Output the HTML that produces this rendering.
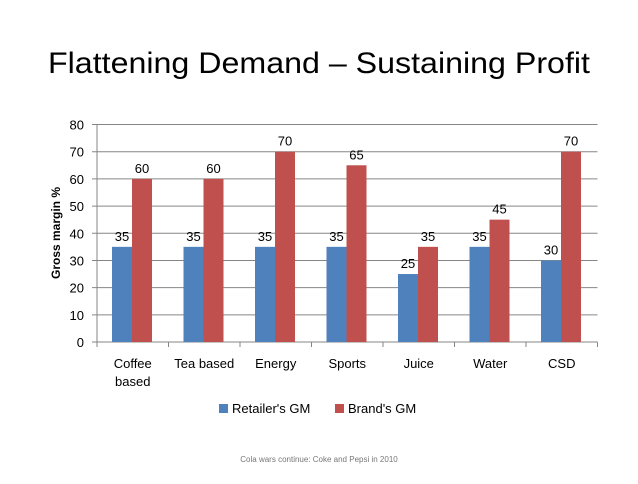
<!DOCTYPE html>
<html><head><meta charset="utf-8"><style>
body{margin:0;background:#fff;font-family:"Liberation Sans",sans-serif;}
</style></head><body>
<svg width="638" height="479" xmlns="http://www.w3.org/2000/svg">
<text x="319" y="73" text-anchor="middle" font-size="30" textLength="542" lengthAdjust="spacingAndGlyphs" fill="#000">Flattening Demand – Sustaining Profit</text>
<g id="plot"></g>
<text transform="translate(60,233) rotate(-90)" text-anchor="middle" font-size="12" font-weight="bold">Gross margin %</text>
<rect x="219" y="404" width="9" height="9" fill="#4F81BD"/>
<text x="232" y="413" font-size="13">Retailer's GM</text>
<rect x="335" y="404" width="9" height="9" fill="#C0504D"/>
<text x="348" y="413" font-size="13">Brand's GM</text>
<text x="319" y="462" text-anchor="middle" font-size="8" fill="#777">Cola wars continue: Coke and Pepsi in 2010</text>
</svg>
<script>
const categories=["Coffee|based","Tea based","Energy","Sports","Juice","Water","CSD"];
const retailer=[35,35,35,35,25,35,30];
const brand=[60,60,70,65,35,45,70];
const yTicks=[0,10,20,30,40,50,60,70,80];
const NS="http://www.w3.org/2000/svg";
const g=document.getElementById('plot');
const x0=97,x1=597.5,yTop=124.5,yBot=342,yMax=80;
const slot=(x1-x0)/categories.length;
const yS=v=>yBot-(v/yMax)*(yBot-yTop);
function mk(t,a,txt){const e=document.createElementNS(NS,t);for(const k in a)e.setAttribute(k,a[k]);if(txt!==undefined)e.textContent=txt;g.appendChild(e);return e;}
yTicks.forEach(v=>{
 const l=mk('line',{x1:x0-5,x2:v===0?x1:x1,y1:yS(v),y2:yS(v),stroke:'#868686','stroke-width':1});
 
 
 const t=mk('text',{x:x0-13,y:yS(v)+5,'text-anchor':'end','font-size':13},v);
 
 
});
const ax=mk('line',{x1:x0,x2:x0,y1:yTop,y2:yBot,stroke:'#868686'});


for(let i=0;i<=categories.length;i++){
 const tk=mk('line',{x1:x0+i*slot,x2:x0+i*slot,y1:yBot,y2:yBot+5,stroke:'#868686'});
 
 
}
const bw=20,off=15;
categories.forEach((c,i)=>{
 const sx=x0+i*slot+off;
 [[retailer[i],'#4F81BD','retailer',sx],[brand[i],'#C0504D','brand',sx+bw]].forEach(([v,col,n,bx])=>{
  const r=mk('rect',{x:bx,y:yS(v),width:bw,height:yBot-yS(v),fill:col});
  
  
  const t=mk('text',{x:bx+bw/2,y:yS(v)-6,'text-anchor':'middle','font-size':13},v);
  
  
 });
 const cx=x0+(i+0.5)*slot;
 c.split('|').forEach((p,j)=>{
  const t=mk('text',{x:cx,y:368+j*18,'text-anchor':'middle','font-size':13},p);
  
  
 });
});
</script>
</body></html>
